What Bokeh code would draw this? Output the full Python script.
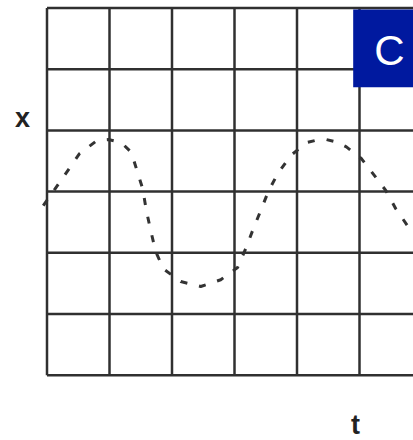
from bokeh.plotting import figure
from bokeh.models import Range1d, Label, BoxAnnotation
from bokeh.embed import file_html
from bokeh.resources import INLINE

# Sketched oscillation x(t), in grid-cell units
t_vals = [-0.06, 0.14, 0.33, 0.52, 0.78, 0.86, 0.98, 1.11, 1.24, 1.35, 1.45, 1.53,
          1.59, 1.66, 1.74, 1.86, 2.14, 2.46, 2.78, 3.05, 3.18, 3.30, 3.42, 3.54,
          3.69, 3.90, 4.15, 4.31, 4.47, 4.63, 4.79, 5.03, 5.24, 5.42, 5.58, 5.77, 5.90]
x_vals = [2.77, 3.06, 3.34, 3.62, 3.82, 3.84, 3.85, 3.82, 3.75, 3.64, 3.31, 3.05,
          2.69, 2.36, 2.02, 1.74, 1.53, 1.45, 1.56, 1.76, 2.07, 2.39, 2.69, 3.00,
          3.29, 3.59, 3.80, 3.84, 3.85, 3.81, 3.73, 3.54, 3.26, 3.02, 2.72, 2.44, 2.31]

# Grid line positions (cell boundaries)
grid_ticks = [0, 1, 2, 3, 4, 5, 6]

x_label = "x"
t_label = "t"
badge_text = "C"

LINE = "#303030"

p = figure(width=413, height=440, output_backend="svg", toolbar_location=None,
           x_range=Range1d(-0.744, 5.864), y_range=Range1d(-1.067, 6.1225),
           x_axis_type=None, y_axis_type=None,
           min_border=0)
p.outline_line_color = None
p.background_fill_color = "white"
p.border_fill_color = "white"
p.xgrid.visible = False
p.ygrid.visible = False

lo, hi = grid_ticks[0], grid_ticks[-1]
# vertical and horizontal grid lines
p.segment(x0=grid_ticks, y0=[lo] * len(grid_ticks), x1=grid_ticks, y1=[hi] * len(grid_ticks),
          line_color=LINE, line_width=2.5)
p.segment(x0=[lo] * len(grid_ticks), y0=grid_ticks, x1=[hi] * len(grid_ticks), y1=grid_ticks,
          line_color=LINE, line_width=2.5)

p.line(t_vals, x_vals, line_color="#333333", line_width=3, line_dash="7 12",
       line_join="round")

# Corner badge
p.add_layout(BoxAnnotation(left=4.899, right=6.2, bottom=4.706, top=5.975,
                           fill_color="#00199f", fill_alpha=1.0, line_color=None,
                           level="overlay"))
p.add_layout(Label(x=5.48, y=5.31, text=badge_text, text_align="center",
                   text_baseline="middle", text_font="Liberation Sans",
                   text_font_size="42px", text_color="white", level="overlay"))

# Axis letters
p.add_layout(Label(x=-0.392, y=4.21, text=x_label, text_align="center",
                   text_baseline="middle", text_font="Liberation Sans",
                   text_font_size="27px", text_font_style="bold", text_color="#222222"))
p.add_layout(Label(x=4.936, y=-0.82, text=t_label, text_align="center",
                   text_baseline="middle", text_font="Liberation Sans",
                   text_font_size="27px", text_font_style="bold", text_color="#222222"))

open("out.html", "w").write(file_html(p, INLINE))
